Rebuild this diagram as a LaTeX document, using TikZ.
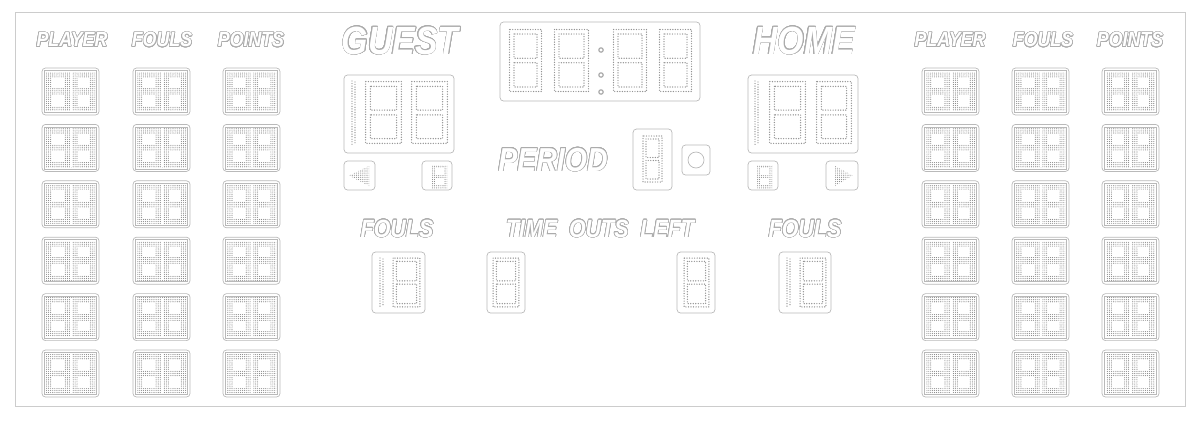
\documentclass[tikz,border=0pt]{standalone}
\usepackage{fontspec}
\usepackage{contour}
\newfontfamily\boardfont[FakeStretch=0.86]{Liberation Sans}
\usetikzlibrary{patterns}
\contourlength{0.45pt}
\contournumber{24}

\pgfdeclarepatternformonly{leddots}{\pgfqpoint{-0.6pt}{-0.6pt}}{\pgfqpoint{0.6pt}{0.6pt}}{\pgfqpoint{1.5pt}{1.5pt}}{%
  \pgfpathcircle{\pgfpointorigin}{0.42pt}\pgfusepath{fill}}

\tikzstyle{frame} = [draw=gray!55, line width=0.5pt]
\tikzstyle{panel} = [frame, rounded corners=2.5pt]
\tikzstyle{led} = [gray!85, line width=1pt, line cap=round, dash pattern=on 0pt off 1.8pt]
\tikzstyle{lbl} = [text=white, inner sep=0pt, font=\boardfont\bfseries\itshape]
\tikzstyle{smalllbl} = [lbl, font=\boardfont\bfseries\itshape\fontsize{14.7}{16}\selectfont]
\tikzstyle{midlbl} = [lbl, font=\boardfont\bfseries\itshape\fontsize{17.7}{19}\selectfont]
\tikzstyle{biglbl} = [lbl, font=\boardfont\bfseries\itshape\fontsize{28}{29}\selectfont]

\newcommand{\outl}[1]{\contour{gray!65}{#1}}
% seven segment eight: x0 y0 x1 y1 stroke
\newcommand{\eight}[5]{%
  \draw[led] (#1+0.2*#5,#2+0.2*#5) rectangle (#3-0.2*#5,#4-0.2*#5);
  \draw[led] (#1+0.8*#5,#2+0.8*#5) rectangle (#3-0.8*#5,{(#2+#4)/2-0.3*#5});
  \draw[led] (#1+0.8*#5,{(#2+#4)/2+0.3*#5}) rectangle (#3-0.8*#5,#4-0.8*#5);
}
\newcommand{\one}[3]{%
  \draw[led] (#1,#2) -- (#1,#3);
  \draw[led] (#1+3,#2+1) -- (#1+3,#3-1);
}
% little two digit player display, top left corner
\newcommand{\playerbox}[2]{%
  \draw[panel] (#1,#2) rectangle ++(57,47);
  \draw[frame] (#1+2.5,#2+2.5) rectangle ++(52,42);
  \fill[pattern=leddots, pattern color=gray!90] (#1+4,#2+4) rectangle ++(49,39);
  \fill[white] (#1+27.5,#2+4) rectangle ++(2,39);
  \foreach \d in {4,29.5}{
    \fill[white] (#1+\d+6,#2+9.5) rectangle ++(11.5,10.5);
    \fill[white] (#1+\d+6,#2+27) rectangle ++(11.5,10.5);
  }
}
\newcommand{\smallb}[2]{%
  \fill[pattern=leddots, pattern color=gray!90] (#1,#2) rectangle ++(15,23);
  \fill[white] (#1+3,#2+3) rectangle ++(9,7);
  \fill[white] (#1+3,#2+13) rectangle ++(9,7);
}

\begin{document}
\begin{tikzpicture}[x=0.025cm,y=-0.025cm]
  \useasboundingbox (0,0) rectangle (1200,422);
  \draw[frame, draw=gray!40] (15,12) rectangle (1185,406);

  % column titles
  \node[smalllbl] (gplayer) at (72,40)  {\outl{PLAYER}};
  \node[smalllbl] (gfouls)  at (162,40) {\outl{FOULS}};
  \node[smalllbl] (gpoints) at (251,40) {\outl{POINTS}};
  \node[smalllbl] (hplayer) at (950,40) {\outl{PLAYER}};
  \node[smalllbl] (hfouls)  at (1043,40) {\outl{FOULS}};
  \node[smalllbl] (hpoints) at (1130,40) {\outl{POINTS}};

  \foreach \c in {42,133,223,922,1012,1102}{
    \foreach \r in {0,...,5}{
      \pgfmathsetmacro\ry{68+56.4*\r}
      \playerbox{\c}{\ry}
    }
  }

  % team names and scores
  \node[biglbl] (guest) at (400,41) {\outl{GUEST}};
  \node[biglbl] (home)  at (804,41) {\outl{HOME}};
  \draw[panel] (344,75) rectangle (454,153);
  \one{352}{81}{145}
  \eight{364}{80}{403}{145}{8}
  \eight{410}{80}{449}{145}{8}
  \draw[panel] (748,75) rectangle (858,153);
  \one{755}{81}{145}
  \eight{768}{80}{807}{145}{8}
  \eight{815}{80}{853}{145}{8}

  % clock
  \draw[panel] (500,22) rectangle (700,101);
  \eight{508}{28}{543}{93}{7.5}
  \eight{553}{28}{590}{93}{7.5}
  \eight{612}{28}{648}{93}{7.5}
  \eight{658}{28}{693}{93}{7.5}
  \foreach \y in {50,75,92}
    \draw[gray!70, line width=0.8pt] (601,\y) circle (2.2);

  % possession
  \draw[panel] (344,161) rectangle (375,190);
  \fill[pattern=leddots, pattern color=gray!90] (349,175.5) -- (369,166) -- (369,186) -- cycle;
  \draw[panel] (422,161) rectangle (452,190);
  \smallb{432}{165}
  \draw[panel] (748,161) rectangle (778,190);
  \smallb{757}{165}
  \draw[panel] (826,161) rectangle (858,190);
  \fill[pattern=leddots, pattern color=gray!90] (853,175.5) -- (835,166) -- (835,186) -- cycle;

  % period
  \node[midlbl, font=\boardfont\bfseries\itshape\fontsize{23.6}{25}\selectfont] (period) at (553,160) {\outl{PERIOD}};
  \draw[panel] (633,129) rectangle (672,190);
  \eight{642}{135}{663}{183}{5}
  \draw[panel] (682,145) rectangle (710,175);
  \draw[frame] (696,160) circle (8);

  % fouls and time outs
  \node[midlbl] (gteamfouls) at (397,229) {\outl{FOULS}};
  \node[midlbl] (timeouts)   at (600,229) {\outl{TIME\ \ OUTS\ \ LEFT}};
  \node[midlbl] (hteamfouls) at (805,229) {\outl{FOULS}};
  \draw[panel] (372,252) rectangle (425,313);
  \one{380}{258}{308}
  \eight{392}{257}{421}{308}{5.5}
  \draw[panel] (487,252) rectangle (525,313);
  \eight{492}{257}{520}{308}{5.5}
  \draw[panel] (677,252) rectangle (715,313);
  \eight{683}{257}{710}{308}{5.5}
  \draw[panel] (779,252) rectangle (831,313);
  \one{787}{258}{308}
  \eight{799}{257}{827}{308}{5.5}
\end{tikzpicture}
\end{document}
